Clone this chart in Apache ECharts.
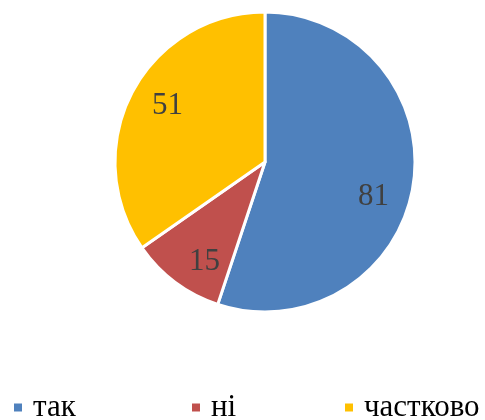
<!DOCTYPE html>
<html>
<head>
<meta charset="utf-8">
<script src="https://cdn.jsdelivr.net/npm/echarts@6/dist/echarts.min.js"></script>
<style>
  html, body { margin: 0; padding: 0; background: #fff; }
  #chart { width: 485px; height: 420px; }
</style>
</head>
<body>
<div id="chart"></div>
<script>
const categories = ['так', 'ні', 'частково']
const values = [81, 15, 51]
const colors = ['#4F81BD', '#C0504D', '#FFC000']

// small nudges so the value labels sit where the original has them
const labelOffsets = [[-8, 16], [10, 5], [7, -2]]
const serif = '"Liberation Serif", "DejaVu Serif", serif'

const pieData = categories.map((name, i) => ({ name: name, value: values[i] }))
const labelData = categories.map((name, i) => ({
    name: name,
    value: values[i],
    label: { offset: labelOffsets[i] }
}))

// one legend per item so each can sit where the original puts it
const legendLeft = [12, 190, 343]
const legends = categories.map((name, i) => ({
    data: [{ name: name, itemStyle: { color: colors[i] } }],
    left: legendLeft[i],
    top: 392,
    padding: 0,
    icon: 'rect',
    itemWidth: 10,
    itemHeight: 10,
    selectedMode: false,
    textStyle: {
        fontFamily: serif,
        fontSize: 31,
        color: '#000',
        padding: [0, 0, 0, 5]
    }
}))

let chart = echarts.init(document.getElementById('chart'))
chart.setOption({
    animation: false,
    color: colors,
    legend: legends,
    series: [{
        type: 'pie',
        center: [265, 162],
        radius: 150,
        startAngle: 90,
        clockwise: true,
        silent: true,
        itemStyle: {
            borderColor: '#fff',
            borderWidth: 3
        },
        label: { show: false },
        labelLine: { show: false },
        data: pieData
    },
    {
        // transparent ring only to place the value labels further out
        type: 'pie',
        center: [265, 162],
        radius: [80, 150],
        startAngle: 90,
        clockwise: true,
        silent: true,
        itemStyle: { color: 'rgba(0,0,0,0)' },
        label: {
            show: true,
            position: 'inside',
            formatter: '{c}',
            fontFamily: serif,
            fontSize: 31,
            color: '#404040'
        },
        labelLine: { show: false },
        data: labelData
    }]
})
</script>
</body>
</html>
